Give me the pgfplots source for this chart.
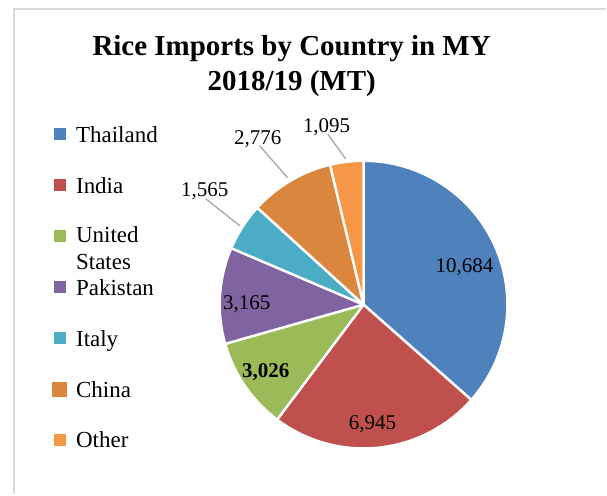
\documentclass[border=0pt]{standalone}
\usepackage{fontspec}
\setmainfont{Liberation Serif}
\usepackage{pgfplots}
\usepackage{pgfplotstable}
\pgfplotsset{compat=1.18}
\definecolor{cThai}{HTML}{4F81BD}
\definecolor{cIndia}{HTML}{C0504D}
\definecolor{cUS}{HTML}{9BBB59}
\definecolor{cPak}{HTML}{8064A2}
\definecolor{cItaly}{HTML}{4BACC6}
\definecolor{cChina}{HTML}{DB863D}
\definecolor{cOther}{HTML}{F79646}
\definecolor{frame}{HTML}{D9D9D9}
\definecolor{leader}{HTML}{A6A6A6}
\pgfplotstableread{
country value col
Thailand 10684 cThai
India 6945 cIndia
UnitedStates 3026 cUS
Pakistan 3165 cPak
Italy 1565 cItaly
China 2776 cChina
Other 1095 cOther
}\imports
\begin{document}
\begin{tikzpicture}
\begin{axis}[width=607bp,height=495bp,scale only axis,
  xmin=0,xmax=607,ymin=0,ymax=495,hide axis,clip=false]
\path (axis cs:0,0) rectangle (axis cs:607,495);
% frame
\draw[frame,line width=1.5bp] (axis cs:14,0) -- (axis cs:14,486) -- (axis cs:607,486);
% pie slices
\def\tot{0}
\pgfplotsforeachungrouped \i in {0,...,6}{%
  \pgfplotstablegetelem{\i}{value}\of\imports
  \pgfmathsetmacro\tot{\tot+\pgfplotsretval/1000}%
}
\def\cum{0}
\pgfplotsforeachungrouped \i in {0,...,6}{%
  \pgfplotstablegetelem{\i}{value}\of\imports
  \pgfmathsetmacro\vk{\pgfplotsretval/1000}%
  \pgfplotstablegetelem{\i}{col}\of\imports
  \let\cc\pgfplotsretval
  \pgfmathsetmacro\aS{90-360*\cum/\tot}%
  \pgfmathsetmacro\aE{90-360*(\cum+\vk)/\tot}%
  \edef\doslice{\noexpand\addplot[fill=\cc, draw=white, line width=2.4bp, line join=round,
     domain=\aE:\aS, samples=90, variable=\noexpand\t]
     ({364+144*cos(\noexpand\t)},{190+144*sin(\noexpand\t)}) -- (axis cs:364,190) -- cycle;}%
  \doslice
  \pgfmathsetmacro\cum{\cum+\vk}%
}
% title
\node[anchor=base,font=\fontsize{29bp}{34bp}\selectfont\bfseries] at (axis cs:292,439.5) {Rice Imports by Country in MY};
\node[anchor=base,font=\fontsize{29bp}{34bp}\selectfont\bfseries] at (axis cs:292,404) {2018/19 (MT)};
% data labels
\begin{scope}[every node/.style={anchor=base,font=\fontsize{21bp}{25bp}\selectfont}]
\node at (axis cs:465,222) {10,684};
\node at (axis cs:373,65) {6,945};
\node[font=\fontsize{21bp}{25bp}\selectfont\bfseries] at (axis cs:266,117) {3,026};
\node at (axis cs:247,185) {3,165};
\node at (axis cs:205,298) {1,565};
\node at (axis cs:258,350) {2,776};
\node at (axis cs:327,362) {1,095};
\end{scope}
\draw[leader,line width=1.3bp] (axis cs:328,361) -- (axis cs:346,336);
\draw[leader,line width=1.3bp] (axis cs:260,349) -- (axis cs:288,317);
\draw[leader,line width=1.3bp] (axis cs:206,296) -- (axis cs:240,269);
% legend
\begin{scope}[every node/.style={anchor=base west,font=\fontsize{23bp}{27bp}\selectfont,inner sep=0pt}]
\node at (axis cs:76,352.5) {Thailand};
\node at (axis cs:76,301.5) {India};
\node at (axis cs:76,252) {United};
\node at (axis cs:76,225) {States};
\node at (axis cs:76,199.5) {Pakistan};
\node at (axis cs:76,148.5) {Italy};
\node at (axis cs:76,97.5) {China};
\node at (axis cs:76,46.5) {Other};
\end{scope}
\begin{scope}[every node/.style={inner sep=0pt,minimum size=12bp}]
\node[fill=cThai] at (axis cs:60,360.5) {};
\node[fill=cIndia] at (axis cs:60,309.5) {};
\node[fill=cUS] at (axis cs:60,258.5) {};
\node[fill=cPak] at (axis cs:60,207.5) {};
\node[fill=cItaly] at (axis cs:60,156.5) {};
\node[fill=cChina,minimum size=15bp] at (axis cs:60,105.5) {};
\node[fill=cOther] at (axis cs:60,54.5) {};
\end{scope}
\end{axis}
\end{tikzpicture}
\end{document}
